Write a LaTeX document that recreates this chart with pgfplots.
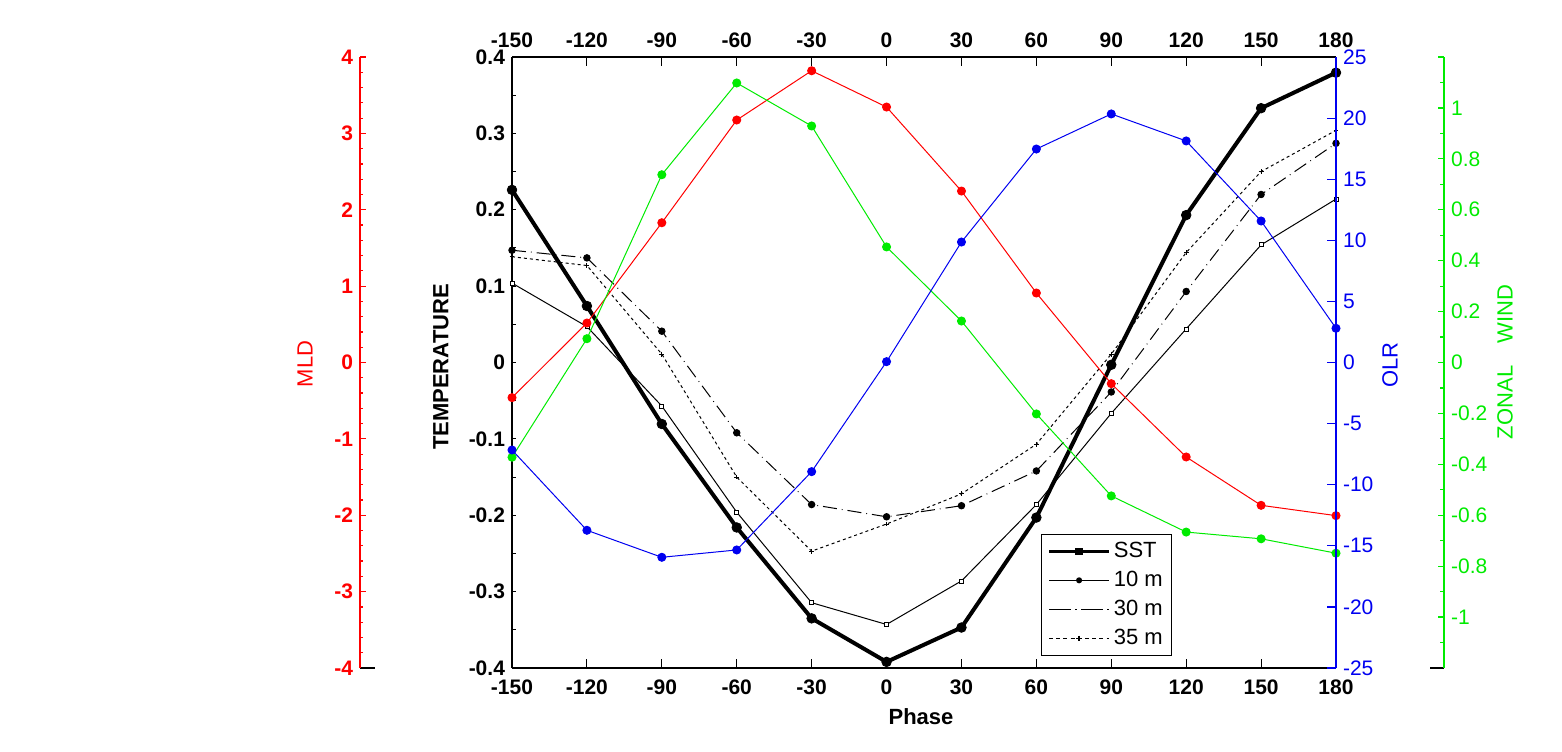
\documentclass[border=0pt]{standalone}
\usepackage{fontspec}
\setmainfont{Liberation Sans}
\usepackage{pgfplots}
\pgfplotsset{compat=1.18}
\definecolor{mred}{RGB}{255,0,0}
\definecolor{mgreen}{RGB}{0,235,0}
\definecolor{mblue}{RGB}{0,0,240}
\newcommand\fs{\fontsize{10.5}{12}\selectfont}
\newcommand\fl{\fontsize{11}{13}\selectfont}
\pgfplotsset{
  base/.style={scale only axis, width=412pt, height=305.5pt,
    xmin=-150, xmax=180, at={(256pt,41.5pt)}, anchor=south west,
    /pgf/number format/assume math mode=true},
}
\begin{document}
\begin{tikzpicture}
% ---------- main temperature axis ----------
\begin{axis}[base, ymin=-0.4, ymax=0.4,
  axis x line*=box, axis y line*=left,
  xtick={-150,-120,-90,-60,-30,0,30,60,90,120,150,180},
  xtick pos=both, xticklabel pos=lower,
  ytick={-0.4,-0.3,-0.2,-0.1,0,0.1,0.2,0.3,0.4},
  minor ytick={-0.35,-0.25,-0.15,-0.05,0.05,0.15,0.25,0.35},
  ytick pos=left, tick align=inside,
  xtick style={/pgfplots/major tick length=4.5pt, black, line width=0.5pt},
  ytick style={/pgfplots/major tick length=2pt, black, line width=0.5pt},
  minor y tick style={/pgfplots/minor tick length=2pt, black, line width=0.5pt},
  axis line style={line width=0.6pt},
  ticklabel style={font=\bfseries\fs},
  xticklabel style={yshift=-2.5pt},
  yticklabel style={/pgf/number format/fixed, /pgf/number format/precision=2},
  legend style={at={(0.6416,0.2198)}, anchor=north west, draw=black,
    line width=0.6pt, fill=white, font=\fl, row sep=1.5pt,
    inner xsep=3pt, inner ysep=2pt,
    nodes={inner sep=1.5pt, text height=8pt, text depth=2pt}},
  legend cell align=left,
  legend image code/.code={\draw[mark repeat=2,mark phase=2] plot coordinates {(0pt,0pt)(15pt,0pt)(30pt,0pt)};},
]
\addlegendimage{black, line width=1.8pt, mark=square*, mark size=1.7pt, mark options={line width=0.4pt}}
\addlegendentry{SST}
\addlegendimage{black, line width=0.6pt, mark=*, mark size=1.2pt}
\addlegendentry{10 m}
\addlegendimage{black, line width=0.6pt, dash pattern=on 11pt off 2pt on 1pt off 2pt}
\addlegendentry{30 m}
\addlegendimage{black, line width=0.6pt, dash pattern=on 2pt off 1.6pt, mark=+, mark size=1.3pt, mark options={solid}}
\addlegendentry{35 m}
% 10 m
\addplot[forget plot, black, line width=0.5pt, mark=square*, mark size=1pt, mark options={fill=white, line width=0.4pt}] coordinates {
(-150,0.104) (-120,0.047) (-90,-0.057) (-60,-0.196) (-30,-0.3145) (0,-0.343)
(30,-0.286) (60,-0.186) (90,-0.0665) (120,0.044) (150,0.154) (180,0.214)};
% 30 m
\addplot[forget plot, black, line width=0.5pt, dash pattern=on 7pt off 2.5pt on 0.4pt off 2.5pt, mark=*, mark size=1.6pt, mark options={solid}] coordinates {
(-150,0.147) (-120,0.137) (-90,0.041) (-60,-0.092) (-30,-0.186) (0,-0.202)
(30,-0.1875) (60,-0.142) (90,-0.0386) (120,0.093) (150,0.220) (180,0.287)};
% 35 m
\addplot[forget plot, black, line width=0.5pt, dash pattern=on 1.5pt off 1.5pt, mark=+, mark size=1.2pt, mark options={solid}] coordinates {
(-150,0.1385) (-120,0.127) (-90,0.011) (-60,-0.150) (-30,-0.247) (0,-0.2115)
(30,-0.172) (60,-0.107) (90,0.011) (120,0.144) (150,0.250) (180,0.304)};
% SST
\addplot[forget plot, black, line width=2pt, mark=*, mark size=2.4pt, mark options={line width=0.4pt}] coordinates {
(-150,0.226) (-120,0.074) (-90,-0.0805) (-60,-0.216) (-30,-0.335) (0,-0.392)
(30,-0.347) (60,-0.203) (90,-0.003) (120,0.193) (150,0.333) (180,0.3795)};
\end{axis}
% ---------- MLD data ----------
\begin{axis}[base, hide axis, ymin=-4, ymax=4]
\addplot[mred, line width=0.5pt, mark=*, mark size=2pt] coordinates {
(-150,-0.46) (-120,0.517) (-90,1.83) (-60,3.175) (-30,3.82) (0,3.345)
(30,2.245) (60,0.91) (90,-0.277) (120,-1.237) (150,-1.870) (180,-2.005)};
\end{axis}
% ---------- Zonal wind data ----------
\begin{axis}[base, hide axis, ymin=-1.2, ymax=1.2]
\addplot[mgreen, line width=0.5pt, mark=*, mark size=2pt] coordinates {
(-150,-0.372) (-120,0.0935) (-90,0.7376) (-60,1.098) (-30,0.929) (0,0.454)
(30,0.163) (60,-0.202) (90,-0.524) (120,-0.666) (150,-0.6925) (180,-0.749)};
\end{axis}
% ---------- OLR axis (right) + top labels ----------
\begin{axis}[base, ymin=-25, ymax=25,
  axis y line*=right, axis x line*=top,
  xtick={-150,-120,-90,-60,-30,0,30,60,90,120,150,180},
  ytick={-25,-20,-15,-10,-5,0,5,10,15,20,25},
  tick align=inside,
  xtick style={/pgfplots/major tick length=4.5pt, black, line width=0.5pt},
  ytick style={/pgfplots/major tick length=4.5pt, mblue, line width=0.6pt},
  x axis line style={black, line width=0.6pt},
  y axis line style={mblue, line width=0.8pt},
  xticklabel style={font=\bfseries\fs, yshift=1pt},
  yticklabel style={font=\fs, text=mblue},
]
\addplot[mblue, line width=0.5pt, mark=*, mark size=2pt] coordinates {
(-150,-7.16) (-120,-13.73) (-90,-15.94) (-60,-15.34) (-30,-8.93) (0,0.07)
(30,9.86) (60,17.47) (90,20.34) (120,18.13) (150,11.58) (180,2.80)};
\end{axis}
% ---------- MLD scale ----------
\begin{axis}[scale only axis, width=7.5pt, height=305.5pt, at={(180pt,41.5pt)}, anchor=south west,
  xmin=0, xmax=1, ymin=-4, ymax=4,
  axis y line*=left, axis x line*=bottom, xtick=\empty,
  ytick={-4,-3,-2,-1,0,1,2,3,4}, minor y tick num=4,
  tick align=inside, major tick length=3pt, minor tick length=1.5pt,
  /pgf/number format/assume math mode=true,
  x axis line style={black, line width=0.6pt},
  y axis line style={mred, line width=0.6pt},
  ytick style={mred, line width=0.6pt}, minor y tick style={mred, line width=0.6pt},
  yticklabel style={font=\bfseries\fs, text=mred},
]
\addplot[draw=none] coordinates {(0.5,0)};
\end{axis}
% ---------- Zonal wind scale ----------
\begin{axis}[scale only axis, width=7pt, height=305.5pt, at={(722pt,41.5pt)}, anchor=south east,
  xmin=0, xmax=1, ymin=-1.2, ymax=1.2,
  axis y line*=right, axis x line*=bottom, xtick=\empty,
  ytick={-1.2,-1,-0.8,-0.6,-0.4,-0.2,0,0.2,0.4,0.6,0.8,1,1.2},
  yticklabels={,-1,-0.8,-0.6,-0.4,-0.2,0,0.2,0.4,0.6,0.8,1,},
  minor ytick={-1.1,-0.9,-0.7,-0.5,-0.3,-0.1,0.1,0.3,0.5,0.7,0.9,1.1},
  tick align=inside, major tick length=3pt, minor tick length=2pt,
  x axis line style={black, line width=0.6pt},
  y axis line style={mgreen, line width=0.6pt},
  ytick style={mgreen, line width=0.6pt}, minor y tick style={mgreen, line width=0.6pt},
  yticklabel style={font=\fs, text=mgreen},
]
\addplot[draw=none] coordinates {(0.5,0)};
\end{axis}
% ---------- axis titles ----------
\node[rotate=90, font=\fl, text=mred] at (152.5pt,193.5pt) {MLD};
\node[rotate=90, font=\bfseries\fl] at (220.4pt,192pt) {TEMPERATURE};
\node[rotate=90, font=\fl, text=mblue] at (695pt,193pt) {OLR};
\node[rotate=90, font=\fl, text=mgreen] at (752.5pt,194.5pt) {ZONAL\quad WIND};
\node[font=\bfseries\fl] at (460.5pt,17pt) {Phase};
\pgfresetboundingbox
\useasboundingbox (0,0) rectangle (781pt,375.5pt);
\end{tikzpicture}
\end{document}
